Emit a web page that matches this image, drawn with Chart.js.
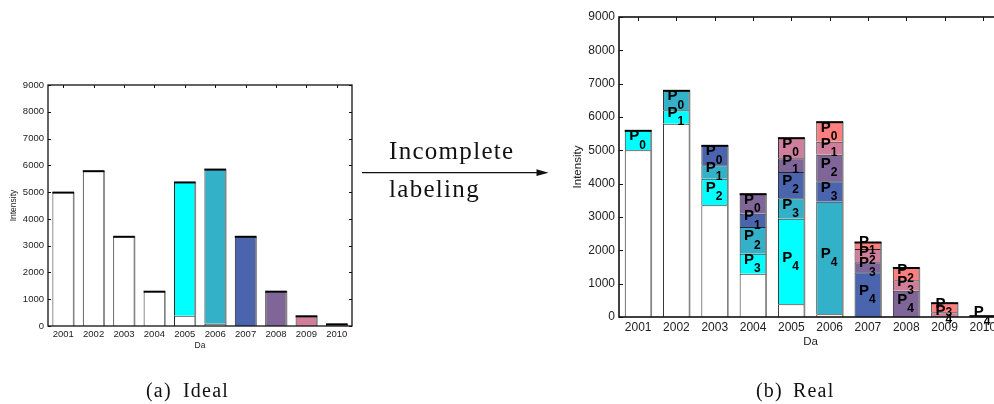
<!DOCTYPE html>
<html>
<head>
<meta charset="utf-8">
<script src="https://cdn.jsdelivr.net/npm/chart.js@4.4.1/dist/chart.umd.min.js"></script>
<style>
  html, body { margin: 0; padding: 0; background: #fff; }
  body { width: 994px; height: 404px; position: relative; overflow: hidden; }
  #idealChart { position: absolute; left: 0; top: 60px; }
  #realChart { position: absolute; left: 560px; top: 0; }
  #notes { position: absolute; left: 0; top: 0; }
</style>
</head>
<body>
<canvas id="idealChart" width="360" height="300"></canvas>
<canvas id="realChart" width="442" height="350"></canvas>
<svg id="notes" width="994" height="404">
  <g font-family="'Liberation Serif', 'DejaVu Serif', serif" fill="#111">
    <text x="389" y="159.3" font-size="25" letter-spacing="1.3">Incomplete</text>
    <text x="389" y="196.7" font-size="25" letter-spacing="1.3">labeling</text>
    <text x="146" y="397" font-size="20" letter-spacing="1.2">(a)</text>
    <text x="183" y="397" font-size="20" letter-spacing="1.2">Ideal</text>
    <text x="756" y="397" font-size="20" letter-spacing="1.2">(b)</text>
    <text x="793" y="397" font-size="20" letter-spacing="1.2">Real</text>
  </g>
  <line x1="362" y1="172.7" x2="538" y2="172.7" stroke="#111" stroke-width="1.3"/>
  <polygon points="536.5,169.3 548.5,172.7 536.5,176.1" fill="#111"/>
</svg>

<script>
// categories and axis ticks
const years = ['2001', '2002', '2003', '2004', '2005', '2006', '2007', '2008', '2009', '2010'];
const yTicks = [0, 1000, 2000, 3000, 4000, 5000, 6000, 7000, 8000, 9000];

// (a) Ideal: white base + one coloured block per year
const idealBase = [5000, 5800, 3350, 1300, 380, 80, null, null, null, null];
const idealTop = [null, null, null, null, 5000, 5780, 3350, 1300, 380, 80];

// (b) Real: stacked blocks, one series per colour
const realWhite = [5000, 5800, 3350, 1300, 380, 80, null, null, null, null];
const realCyan = [600, 400, 800, 600, 2570, null, null, null, null, null];
const realTeal = [null, 600, 400, 800, 610, 3380, null, null, null, null];
const realBlue = [null, null, 600, 400, 790, 610, 1340, null, null, null];
const realPurple = [null, null, null, 600, 410, 800, 300, 785, null, null];
const realPink = [null, null, null, null, 620, 390, 400, 315, 140, null];
const realSalmon = [null, null, null, null, null, 600, 210, 385, 290, 40];

// P_k subscripts written on each block
const cyanTags = [0, 1, 2, 3, 4, null, null, null, null, null];
const tealTags = [null, 0, 1, 2, 3, 4, null, null, null, null];
const blueTags = [null, null, 0, 1, 2, 3, 4, null, null, null];
const purpleTags = [null, null, null, 0, 1, 2, 3, 4, null, null];
const pinkTags = [null, null, null, null, 0, 1, 2, 3, 4, null];
const salmonTags = [null, null, null, null, null, 0, 1, 2, 3, 4];

const WHITE = '#ffffff', CYAN = '#00ffff', TEAL = '#32b1c9', BLUE = '#4a64ae',
      PURPLE = '#7f6598', PINK = '#cf7f9b', SALMON = '#ff7f7f';
const idealTopColours = [WHITE, WHITE, WHITE, WHITE, CYAN, TEAL, BLUE, PURPLE, PINK, SALMON];

const FONT = '"Liberation Sans", Arial, Helvetica, sans-serif';
Chart.defaults.font.family = FONT;
Chart.defaults.color = '#222';

// black cap on each stack, grey shade on the right edge, then the axes box with inner ticks
const framePlugin = {
  id: 'frame',
  afterDatasetsDraw(chart, args, opts) {
    const ctx = chart.ctx;
    const zeroY = chart.scales.y.getPixelForValue(0);
    for (let j = 0; j < chart.data.labels.length; j++) {
      let top = null;
      chart.data.datasets.forEach((ds, i) => {
        if (ds.data[j] !== null && ds.data[j] !== undefined) top = chart.getDatasetMeta(i).data[j];
      });
      if (!top) continue;
      const half = top.width / 2;
      ctx.save();
      ctx.strokeStyle = '#858585';
      ctx.lineWidth = 1.6;
      ctx.beginPath();
      ctx.moveTo(top.x + half - 0.3, top.y);
      ctx.lineTo(top.x + half - 0.3, zeroY);
      ctx.stroke();
      ctx.strokeStyle = '#000';
      ctx.lineWidth = opts.capWidth;
      ctx.beginPath();
      ctx.moveTo(top.x - half, top.y + opts.capWidth / 2 - 0.5);
      ctx.lineTo(top.x + half, top.y + opts.capWidth / 2 - 0.5);
      ctx.stroke();
      ctx.restore();
    }
  },
  afterDraw(chart, args, opts) {
    const {ctx, chartArea: a, scales: {x, y}} = chart;
    ctx.save();
    ctx.strokeStyle = '#111';
    ctx.lineWidth = opts.lineWidth;
    ctx.strokeRect(a.left, a.top, a.right - a.left, a.bottom - a.top);
    ctx.lineWidth = 1;
    ctx.beginPath();
    yTicks.forEach(v => {
      const py = Math.round(y.getPixelForValue(v)) + 0.5;
      ctx.moveTo(a.left, py); ctx.lineTo(a.left + opts.tick, py);
      ctx.moveTo(a.right, py); ctx.lineTo(a.right - opts.tick, py);
    });
    years.forEach((c, j) => {
      const px = Math.round(x.getPixelForValue(j)) + 0.5;
      ctx.moveTo(px, a.top); ctx.lineTo(px, a.top + opts.tick);
    });
    ctx.stroke();
    ctx.restore();
  }
};

const tagPlugin = {
  id: 'tags',
  afterDatasetsDraw(chart) {
    const ctx = chart.ctx;
    chart.data.datasets.forEach((ds, i) => {
      if (!ds.tags) return;
      chart.getDatasetMeta(i).data.forEach((bar, j) => {
        const t = ds.tags[j];
        if (t === null || t === undefined) return;
        const cy = (bar.y + bar.base) / 2;
        ctx.save();
        ctx.fillStyle = '#000';
        ctx.textBaseline = 'middle';
        ctx.font = 'bold 15px ' + FONT;
        ctx.textAlign = 'right';
        ctx.fillText('P', bar.x + 1, cy - 4);
        ctx.font = 'bold 12px ' + FONT;
        ctx.textAlign = 'left';
        ctx.fillText(String(t), bar.x + 1, cy + 5);
        ctx.restore();
      });
    });
  }
};

function makeOptions(s) {
  return {
    responsive: false,
    animation: false,
    layout: { padding: s.padding },
    plugins: {
      legend: { display: false },
      tooltip: { enabled: false },
      frame: { lineWidth: s.frameWidth, tick: s.tick, capWidth: 2 }
    },
    scales: {
      x: {
        stacked: true,
        grid: { display: false, drawTicks: false },
        border: { display: false },
        ticks: { font: { size: s.tickSize }, padding: s.xTickPad, maxRotation: 0, autoSkip: false },
        title: { display: true, text: 'Da', font: { size: s.titleSize }, padding: { top: 0, bottom: s.xTitlePad } },
        afterFit: axis => { axis.height = s.xHeight; }
      },
      y: {
        stacked: true,
        min: 0,
        max: 9000,
        grid: { display: false, drawTicks: false },
        border: { display: false },
        afterBuildTicks: axis => { axis.ticks = yTicks.map(v => ({ value: v })); },
        ticks: { font: { size: s.tickSize }, padding: s.yTickPad, callback: v => String(v) },
        title: { display: true, text: 'Intensity', font: { size: s.titleSize }, padding: { top: s.yTitlePad, bottom: 0 } },
        afterFit: axis => { axis.width = s.yWidth; }
      }
    }
  };
}

const barStyle = { borderColor: '#262626', borderWidth: 1, borderSkipped: 'start' };

new Chart(document.getElementById('idealChart'), {
  type: 'bar',
  data: {
    labels: years,
    datasets: [
      { data: idealBase, backgroundColor: WHITE, ...barStyle, barPercentage: 0.71, categoryPercentage: 1 },
      { data: idealTop, backgroundColor: idealTopColours, ...barStyle, barPercentage: 0.71, categoryPercentage: 1 }
    ]
  },
  options: makeOptions({
    padding: { top: 25, right: 8, left: 0, bottom: 0 },
    tickSize: 9.5, titleSize: 8.5, frameWidth: 1.3, tick: 3,
    xHeight: 34, yWidth: 48, xTickPad: 3, yTickPad: 4, xTitlePad: 9.6, yTitlePad: 9
  }),
  plugins: [framePlugin]
});

const realSeries = [
  [realWhite, WHITE, null],
  [realCyan, CYAN, cyanTags],
  [realTeal, TEAL, tealTags],
  [realBlue, BLUE, blueTags],
  [realPurple, PURPLE, purpleTags],
  [realPink, PINK, pinkTags],
  [realSalmon, SALMON, salmonTags]
];

new Chart(document.getElementById('realChart'), {
  type: 'bar',
  data: {
    labels: years,
    datasets: realSeries.map(([values, colour, tags]) => ({
      data: values, tags: tags, backgroundColor: colour, ...barStyle,
      barPercentage: 0.7, categoryPercentage: 1
    }))
  },
  options: makeOptions({
    padding: { top: 17, right: 0, left: 0, bottom: 0 },
    tickSize: 12, titleSize: 11.5, frameWidth: 1.6, tick: 4,
    xHeight: 33, yWidth: 59, xTickPad: 3.4, yTickPad: 4, xTitlePad: 1.4, yTitlePad: 10.6
  }),
  plugins: [framePlugin, tagPlugin]
});
</script>
</body>
</html>
